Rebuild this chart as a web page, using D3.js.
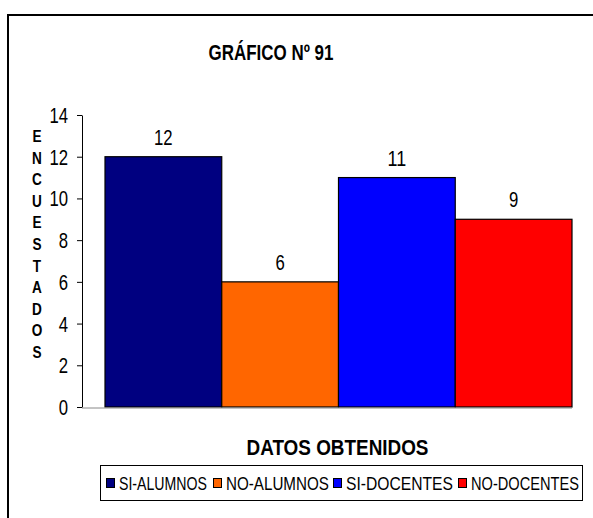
<!DOCTYPE html>
<html><head><meta charset="utf-8">
<script src="https://cdn.jsdelivr.net/npm/d3@7"></script>
<style>body{margin:0;background:#fff}svg{display:block}</style>
</head><body>
<script>
const series = ["SI-ALUMNOS", "NO-ALUMNOS", "SI-DOCENTES", "NO-DOCENTES"];
const values = [12, 6, 11, 9];
const colors = ["#000080", "#FF6600", "#0000FF", "#FF0000"];
const yTicks = [0, 2, 4, 6, 8, 10, 12, 14];
const title = "GRÁFICO Nº 91";
const xTitle = "DATOS OBTENIDOS";
const yTitle = "ENCUESTADOS";

const W = 593, H = 518;
const svg = d3.select("body").append("svg").attr("width", W).attr("height", H);
const font = "'Liberation Sans',Arial,sans-serif";
const digitW = 9.3;

// condensed text helper: draws text at (x,y) squeezed to a target width
function condensed(parent, str, x, y, width, anchor, size, weight) {
  const t = parent.append("text").attr("font-family", font).attr("font-size", size)
    .attr("font-weight", weight || "normal").attr("text-anchor", anchor).text(str);
  const natural = t.node().getComputedTextLength();
  const s = width / natural;
  t.attr("transform", `translate(${x},${y}) scale(${s},1)`);
  return t;
}

// outer border
svg.append("rect").attr("x", 8).attr("y", 15).attr("width", W).attr("height", H)
  .attr("fill", "none").attr("stroke", "#000").attr("stroke-width", 2);

const y = d3.scaleLinear().domain([0, 14]).range([407, 115]);
const x = d3.scaleBand().domain(series).range([105, 572]).paddingInner(0).paddingOuter(0);

// y axis (ticks & line from d3, labels condensed)
const yAxis = svg.append("g").attr("transform", "translate(82,0)")
  .call(d3.axisLeft(y).tickValues(yTicks).tickSize(5).tickSizeOuter(0).tickFormat(""));
yAxis.select(".domain").attr("stroke", "#000");
yAxis.selectAll("line").attr("stroke", "#000");
const tickG = svg.append("g");
yTicks.forEach(v => {
  condensed(tickG, String(v), 68, y(v) + 8, String(v).length * digitW, "end", 22);
});

// bars
svg.selectAll("rect.bar").data(series).enter().append("rect").attr("class", "bar")
  .attr("x", d => x(d)).attr("width", x.bandwidth())
  .attr("y", (d, i) => y(values[i])).attr("height", (d, i) => y(0) - y(values[i]))
  .attr("fill", (d, i) => colors[i]).attr("stroke", "#000").attr("stroke-width", 1.2);

// baseline
svg.append("line").attr("x1", 82).attr("x2", 572).attr("y1", y(0) + 1).attr("y2", y(0) + 1)
  .attr("stroke", "#888").attr("stroke-width", 1);

// data labels
const lblG = svg.append("g");
series.forEach((d, i) => {
  condensed(lblG, String(values[i]), x(d) + x.bandwidth() / 2, y(values[i]) - 12,
    String(values[i]).length * digitW, "middle", 22);
});

// title
condensed(svg, title, 271, 60, 125, "middle", 22, "bold");

// x title
condensed(svg, xTitle, 337.5, 455, 182, "middle", 22, "bold");

// y title stacked letters
const letters = yTitle.split("");
svg.selectAll("text.yl").data(letters).enter().append("text").attr("class", "yl")
  .attr("transform", (d, i) => `translate(37,${142 + i * 21.6}) scale(0.85,1)`)
  .attr("text-anchor", "middle")
  .attr("font-family", font).attr("font-weight", "bold").attr("font-size", 16).text(d => d);

// legend
svg.append("rect").attr("x", 100.5).attr("y", 465.5).attr("width", 482).attr("height", 35)
  .attr("fill", "#fff").attr("stroke", "#000").attr("stroke-width", 1);
const legSq = [106, 213, 333, 458];
const legTx = [119, 226, 346, 471];
const legLen = [88, 103, 107, 108];
const lg = svg.append("g");
series.forEach((d, i) => {
  lg.append("rect").attr("x", legSq[i] + 0.5).attr("y", 478.5).attr("width", 8).attr("height", 9)
    .attr("fill", colors[i]).attr("stroke", "#000").attr("stroke-width", 1);
  condensed(lg, d, legTx[i], 490, legLen[i], "start", 19);
});
</script>
</body></html>
